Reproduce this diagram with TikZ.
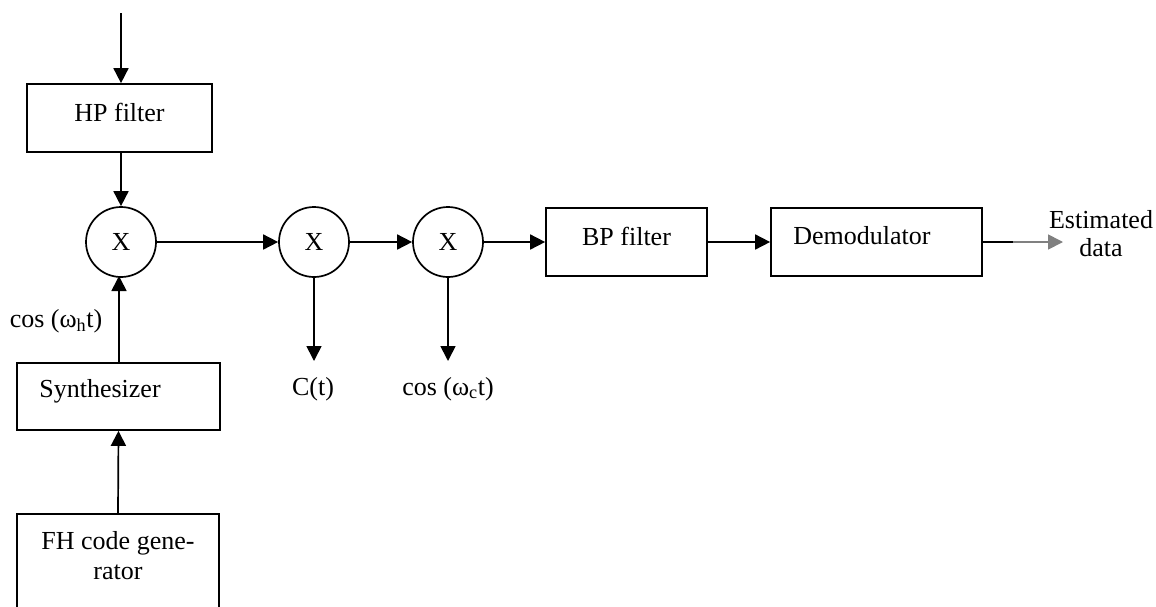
\documentclass[tikz,border=0pt]{standalone}
\usepackage{fontspec}
\setmainfont{Liberation Serif}
\usetikzlibrary{arrows.meta}
\begin{document}
\begin{tikzpicture}[x=1pt,y=-1pt,
  font=\fontsize{26}{30}\selectfont,
  line width=1.7pt,
  box/.style={draw,rectangle,inner sep=0pt},
  mult/.style={draw,circle,minimum size=70pt,inner sep=0pt},
  txt/.style={inner sep=0pt,align=center},
  arr/.style={-{Triangle[length=15pt,width=15pt]}}]
\useasboundingbox (0,0) rectangle (1156,606);
% boxes
\node[box,minimum width=185pt,minimum height=68pt] (hp) at (119.5,118) {};
\node[txt] (hpt) at (119.5,112) {HP filter};
\node[box,minimum width=161pt,minimum height=68pt] (bp) at (626.5,242) {};
\node[txt] (bpt) at (626.5,236) {BP filter};
\node[box,minimum width=211pt,minimum height=68pt] (dm) at (876.5,242) {};
\node[txt] (dmt) at (862,236) {Demodulator};
\node[box,minimum width=203pt,minimum height=67pt] (syn) at (118.5,396.5) {};
\node[txt] (synt) at (100,391) {Synthesizer};
\node[box,minimum width=202pt,minimum height=98pt] (fh) at (118,563) {};
\node[txt] (fht) at (118,556) {FH code gene-\\rator};
% multipliers
\node[mult] (m1) at (121,242) {X};
\node[mult] (m2) at (314,242) {X};
\node[mult] (m3) at (448,242) {X};
% coordinates
\coordinate (in) at (121,13);
\coordinate (c2) at (314,361);
\coordinate (c3) at (448,361);
\coordinate (mid) at (1013,242);
\coordinate (out) at (1063,242);
% labels
\node[txt] (ct) at (313,389) {C(t)};
\node[txt] (cc) at (448,389) {cos (ω\textsubscript{c}t)};
\node[txt] (ch) at (56,321) {cos (ω\textsubscript{h}t)};
\node[txt,font=\fontsize{26}{28}\selectfont] (est) at (1101,234) {Estimated\\data};
% connectors
\draw[arr] (in) -- (in |- hp.north);
\draw[arr] (m1 |- hp.south) -- (m1.north);
\draw[arr] (m1.east) -- (m2.west);
\draw[arr] (m2.east) -- (m3.west);
\draw[arr] (m3.east) -- (bp.west);
\draw[arr] (bp.east) -- (dm.west);
\draw (dm.east) -- (mid);
\draw[arr,gray] (mid) -- (out);
\draw[arr] (m2.south) -- (c2);
\draw[arr] (m3.south) -- (c3);
\draw[arr] (119,363) -- (119,276);
\draw[arr] (fh.north) -- (syn.south);
\end{tikzpicture}
\end{document}
